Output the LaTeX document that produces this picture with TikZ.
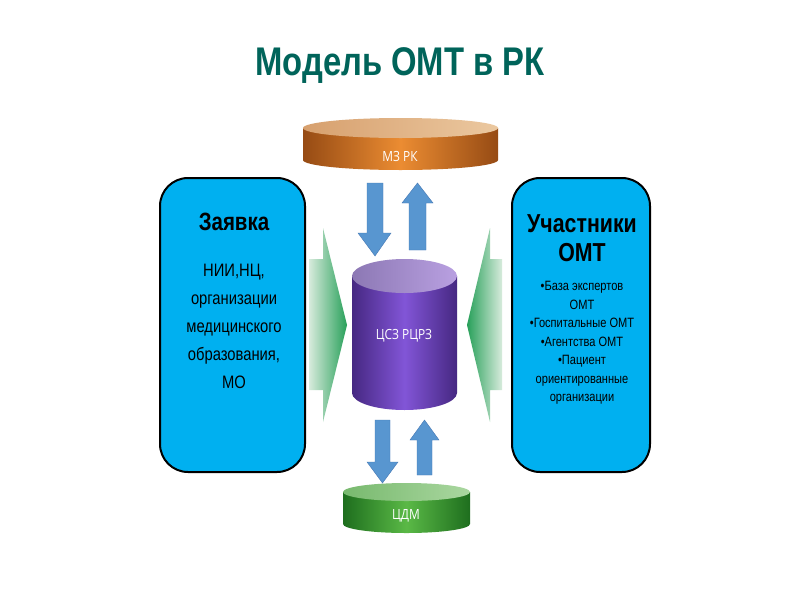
\documentclass[tikz,border=0pt]{standalone}
\usepackage{fontspec}
\setmainfont{Liberation Sans}
\newfontfamily\narrow[FakeStretch=0.82]{Liberation Sans}
\newfontfamily\cyfont[FakeStretch=0.85]{Open Sans}
\begin{document}
\begin{tikzpicture}[x=1pt,y=-1pt,
  bbox/.style={draw=black,line width=2pt,rounded corners=28pt,fill={rgb,255:red,0;green,176;blue,240}},
  barrow/.style={fill={rgb,255:red,88;green,150;blue,208},draw={rgb,255:red,70;green,120;blue,180},line width=0.4pt},
  ctext/.style={text=white,font=\cyfont\fontsize{14}{16}\selectfont}]
\useasboundingbox (0,0) rectangle (800,600);
\fill[white] (0,0) rectangle (800,600);
\definecolor{titc}{RGB}{0,100,90}
\node (title) at (400,66) {\textcolor{titc}{\narrow\fontsize{40}{44}\selectfont\bfseries Модель ОМТ в РК}};
% top cylinder
\shade[left color={rgb,255:red,150;green,75;blue,20},right color={rgb,255:red,150;green,75;blue,20},middle color={rgb,255:red,235;green,140;blue,50}]
 (303,128) -- (303,160) arc[start angle=180,end angle=0,x radius=97.5,y radius=10] -- (498,128) -- cycle;
\shade[left color={rgb,255:red,215;green,160;blue,110},right color={rgb,255:red,235;green,200;blue,160}] (400.5,128) ellipse[x radius=97.5,y radius=10];
\node[ctext] (mz) at (400,156) {МЗ РК};
% middle cylinder
\shade[left color={rgb,255:red,70;green,40;blue,130},right color={rgb,255:red,70;green,40;blue,130},middle color={rgb,255:red,130;green,85;blue,215}]
 (352,276) -- (352,393) arc[start angle=180,end angle=0,x radius=52.5,y radius=17] -- (457,276) -- cycle;
\shade[left color={rgb,255:red,140;green,120;blue,180},right color={rgb,255:red,185;green,160;blue,225}] (404.5,276) ellipse[x radius=52.5,y radius=17];
\node[ctext] (csz) at (404,336) {ЦСЗ РЦРЗ};
% bottom cylinder
\shade[left color={rgb,255:red,30;green,110;blue,30},right color={rgb,255:red,30;green,110;blue,30},middle color={rgb,255:red,90;green,185;blue,70}]
 (343,492) -- (343,524) arc[start angle=180,end angle=0,x radius=63.5,y radius=9] -- (470,492) -- cycle;
\shade[left color={rgb,255:red,120;green,185;blue,110},right color={rgb,255:red,170;green,215;blue,160}] (406.5,492) ellipse[x radius=63.5,y radius=9];
\node[ctext] (cdm) at (406,516) {ЦДМ};
% blue arrows
\draw[barrow] (367,183) -- (383,183) -- (383,233) -- (391,233) -- (375,256) -- (358,233) -- (367,233) -- cycle;
\draw[barrow] (409,250) -- (426,250) -- (426,203) -- (433,203) -- (417.5,183) -- (402,203) -- (409,203) -- cycle;
\draw[barrow] (375,420) -- (390,420) -- (390,462) -- (398,462) -- (382.5,483) -- (367,462) -- (375,462) -- cycle;
\draw[barrow] (417,475) -- (432,475) -- (432,440) -- (439,440) -- (424.5,420) -- (410,440) -- (417,440) -- cycle;
% green arrows
\shade[left color={rgb,255:red,215;green,235;blue,220},right color={rgb,255:red,40;green,160;blue,90}]
 (309,259) -- (323,259) -- (323,228) -- (347,325) -- (323,422) -- (323,390) -- (309,390) -- cycle;
\shade[right color={rgb,255:red,215;green,235;blue,220},left color={rgb,255:red,40;green,160;blue,90}]
 (502,259) -- (490,259) -- (490,228) -- (467,325) -- (490,422) -- (490,390) -- (502,390) -- cycle;
% side boxes
\draw[bbox] (160,178) rectangle (305,472);
\draw[bbox] (512,178) rectangle (650,472);
\node (zl) at (234,222) {\narrow\fontsize{25}{28}\selectfont\bfseries Заявка};
\node[align=center,font=\narrow\fontsize{18}{28}\selectfont] (zt) at (234,326) {НИИ,НЦ,\\организации\\медицинского\\образования,\\МО};
\node[align=center,font=\narrow\fontsize{26}{29}\selectfont\bfseries] (ul) at (582,238) {Участники\\ОМТ};
\node[align=center,font=\narrow\fontsize{13.5}{18.5}\selectfont] (ut) at (582,343) {•База экспертов\\ОМТ\\•Госпитальные ОМТ\\•Агентства ОМТ\\•Пациент\\ориентированные\\организации};
\end{tikzpicture}
\end{document}
